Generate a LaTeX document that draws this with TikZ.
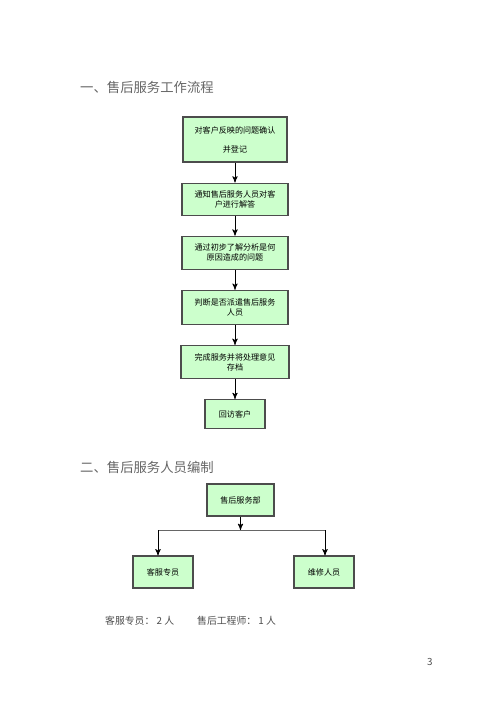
\documentclass[tikz,border=0pt]{standalone}
\usepackage{fontspec}
\setmainfont{Noto Sans CJK SC}
\usetikzlibrary{arrows,positioning}

\tikzset{
    flowbox/.style={draw=black!70, line width=0.65pt, fill=green!20!white, text=black,
        font=\fontsize{4.6}{5.8}\selectfont, align=center, inner sep=1pt},
    heading/.style={anchor=west, text=black!60, font=\fontsize{7.6}{9}\selectfont},
    note/.style={anchor=west, text=black!70, font=\fontsize{5.6}{7}\selectfont}
}

\begin{document}
\begin{tikzpicture}[x=0.02cm, y=-0.02cm, >=stealth', node distance=0.4cm]
    \useasboundingbox (0,0) rectangle (500,707);

    % Headings
    \node [heading] (h1) at (74,87)  {一、售后服务工作流程};
    \node [heading] (h2) at (74,467) {二、售后服务人员编制};

    % Flow {s1, s2, s3, s4, s5, s6}
    \node [flowbox, minimum width=2.08cm, minimum height=0.9cm]  (s1) at (235,139.5)
        {对客户反映的问题确认\\[5pt]并登记};
    \node [flowbox, minimum width=2.12cm, minimum height=0.64cm] (s2) [below=of s1]
        {通知售后服务人员对客\\户进行解答};
    \node [flowbox, minimum width=2.12cm, minimum height=0.66cm] (s3) [below=of s2]
        {通过初步了解分析是何\\原因造成的问题};
    \node [flowbox, minimum width=2.12cm, minimum height=0.68cm] (s4) [below=of s3]
        {判断是否派遣售后服务\\人员};
    \node [flowbox, minimum width=2.16cm, minimum height=0.66cm] (s5) [below=of s4]
        {完成服务并将处理意见\\存档};
    \node [flowbox, minimum width=1.2cm,  minimum height=0.58cm] (s6) [below=of s5]
        {回访客户};

    % Paths
    \path [->] (s1) edge (s2);
    \path [->] (s2) edge (s3);
    \path [->] (s3) edge (s4);
    \path [->] (s4) edge (s5);
    \path [->] (s5) edge (s6);

    % Staff chart
    \node [flowbox, minimum width=1.34cm, minimum height=0.64cm] (dept)  at (240.5,500) {售后服务部};
    \node [flowbox, minimum width=1.2cm,  minimum height=0.64cm] (kefu)  at (163,572)   {客服专员};
    \node [flowbox, minimum width=1.2cm,  minimum height=0.64cm] (weixiu) at (324,572)  {维修人员};

    \coordinate (jl) at (158,530);
    \coordinate (jr) at (325,530);
    \draw [->] (dept) -- (dept |- jl);
    \draw [black!60] (jl) -- (jr);
    \draw [->] (jl) -- (jl |- kefu.north);
    \draw [->] (jr) -- (jr |- weixiu.north);

    % Notes
    \node [note] (n1) at (99,621)  {客服专员： 2 人};
    \node [note] (n2) at (191,621) {售后工程师： 1 人};
    \node [note] (pg) at (421,662) {3};
\end{tikzpicture}
\end{document}
